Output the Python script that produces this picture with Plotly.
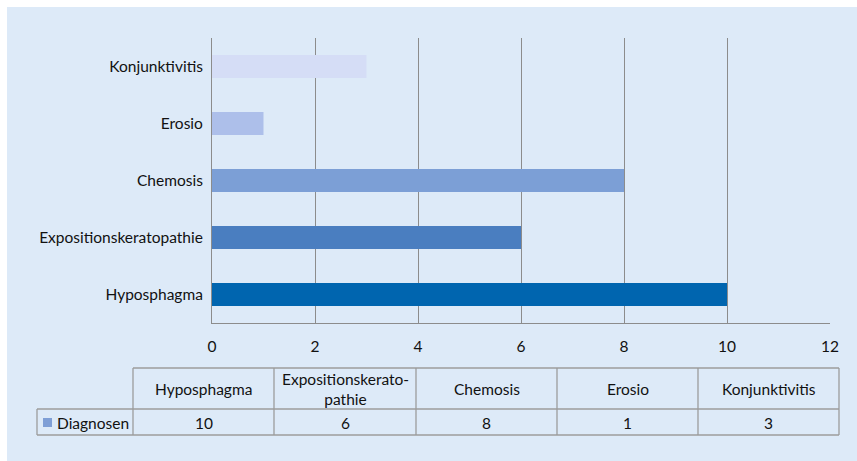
import plotly.graph_objects as go

categories = ["Hyposphagma", "Expositionskeratopathie", "Chemosis", "Erosio", "Konjunktivitis"]
values = [10, 6, 8, 1, 3]
table_headers = ["Hyposphagma", "Expositionskerato-<br>pathie", "Chemosis", "Erosio", "Konjunktivitis"]
series_name = "Diagnosen"
x_ticks = [0, 2, 4, 6, 8, 10, 12]
bar_colors = ["#0065AF", "#4A7EC0", "#7C9FD6", "#ADBFEA", "#D5DDF6"]

W, H = 857, 461
L, R, T, B = 212, 830, 38, 323  # plot area pixels
FONT = "Lato"
FS = 15.5
TXT = "#111111"

def px(x):
    return (x - L) / (R - L)

def py(y):
    return (B - y) / (B - T)

fig = go.Figure()
fig.add_trace(go.Bar(
    y=categories, x=values, orientation="h",
    marker=dict(color=bar_colors, line=dict(width=0)),
    width=0.4, name=series_name, showlegend=False,
))

shapes = []
# background panel
shapes.append(dict(type="rect", xref="paper", yref="paper",
                   x0=px(7), x1=px(W + 5), y0=py(H + 5), y1=py(7),
                   fillcolor="#DDEAF8", line=dict(width=0), layer="below"))

# table
grid_col = "#9C9C9C"
col_x = [133, 274, 416, 557, 698, 839]
row_top, row_mid, row_bot = 368, 409, 435
leg_x0 = 37

def hline(x0, x1, y):
    shapes.append(dict(type="line", xref="paper", yref="paper",
                       x0=px(x0), x1=px(x1), y0=py(y), y1=py(y),
                       line=dict(color=grid_col, width=1.3)))

def vline(x, y0, y1):
    shapes.append(dict(type="line", xref="paper", yref="paper",
                       x0=px(x), x1=px(x), y0=py(y0), y1=py(y1),
                       line=dict(color=grid_col, width=1.3)))

hline(col_x[0], col_x[-1], row_top)
hline(leg_x0, col_x[-1], row_mid)
hline(leg_x0, col_x[-1], row_bot)
for cx in col_x:
    vline(cx, row_top, row_bot)
vline(leg_x0, row_mid, row_bot)

# legend key
shapes.append(dict(type="rect", xref="paper", yref="paper",
                   x0=px(43), x1=px(52), y0=py(427), y1=py(418),
                   fillcolor="#7F9FD6", line=dict(width=0)))

annotations = []
for i, (hdr, val) in enumerate(zip(table_headers, values)):
    cx = (col_x[i] + col_x[i + 1]) / 2
    annotations.append(dict(xref="paper", yref="paper", x=px(cx), y=py((row_top + row_mid) / 2),
                            text=hdr, showarrow=False, xanchor="center", yanchor="middle",
                            font=dict(family=FONT, size=FS, color=TXT)))
    annotations.append(dict(xref="paper", yref="paper", x=px(cx), y=py((row_mid + row_bot) / 2 + 0.5),
                            text=str(val), showarrow=False, xanchor="center", yanchor="middle",
                            font=dict(family=FONT, size=FS, color=TXT)))
annotations.append(dict(xref="paper", yref="paper", x=px(55), y=py((row_mid + row_bot) / 2 + 0.5),
                        text=series_name, showarrow=False, xanchor="left", yanchor="middle",
                        font=dict(family=FONT, size=FS, color=TXT)))

fig.update_layout(
    width=W, height=H,
    margin=dict(l=L, r=W - R, t=T, b=H - B, pad=0),
    paper_bgcolor="white",
    plot_bgcolor="rgba(0,0,0,0)",
    font=dict(family=FONT, size=FS, color=TXT),
    bargap=0.6,
    shapes=shapes,
    annotations=annotations,
    xaxis=dict(range=[0, 12], tickvals=x_ticks, showgrid=True, gridcolor="#8C8C8C", gridwidth=1,
               showline=True, linecolor="#8C8C8C", linewidth=1, zeroline=False,
               ticks="", ticklabelstandoff=9, tickfont=dict(size=FS, color=TXT), fixedrange=True),
    yaxis=dict(showgrid=False, showline=True, linecolor="#8C8C8C", linewidth=1, ticks="",
               ticklabelstandoff=5, tickfont=dict(size=FS, color=TXT), fixedrange=True),
)

fig.write_html("out.html")
